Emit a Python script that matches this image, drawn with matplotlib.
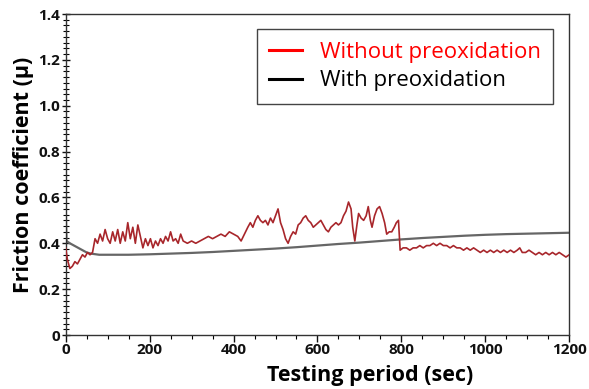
import matplotlib

matplotlib.use("Agg")
import matplotlib.pyplot as plt
from matplotlib.ticker import FixedFormatter, MultipleLocator

RED_LINE = "#a8262b"
GREY_LINE = "#666666"
FRAME = "#333333"

# friction coefficient without preoxidation
t_without = [
    0, 4, 10, 16, 22, 28, 34, 40, 46, 52, 58, 64, 70, 76, 82, 88, 94, 100,
    106, 112, 118, 124, 130, 136, 142, 148, 154, 160, 166, 172, 178, 184, 190,
    196, 202, 208, 214, 220, 226, 232, 238, 244, 250, 256, 262, 268, 274, 280,
    290, 300, 310, 320, 330, 340, 350, 360, 370, 380, 390, 400, 410, 418, 426,
    434, 440, 446, 452, 458, 464, 470, 476, 482, 488, 494, 500, 506, 512, 518,
    524, 530, 536, 542, 548, 554, 560, 566, 572, 578, 584, 590, 596, 602, 608,
    614, 620, 626, 632, 638, 644, 650, 656, 662, 668, 674, 680, 684, 689, 694,
    698, 704, 710, 716, 721, 726, 730, 736, 742, 748, 754, 760, 765, 771, 777,
    783, 788, 793, 797, 804, 812, 820, 828, 836, 844, 852, 860, 868, 876, 884,
    892, 900, 908, 916, 924, 932, 940, 948, 956, 964, 972, 980, 988, 996, 1004,
    1012, 1020, 1028, 1036, 1044, 1052, 1060, 1068, 1076, 1082, 1088, 1096,
    1104, 1112, 1120, 1128, 1136, 1144, 1152, 1160, 1168, 1176, 1184, 1192, 1200,
]
mu_without = [
    0.38, 0.33, 0.29, 0.30, 0.32, 0.31, 0.33, 0.35, 0.34, 0.36, 0.35, 0.36,
    0.42, 0.40, 0.44, 0.41, 0.46, 0.42, 0.40, 0.45, 0.41, 0.46, 0.40, 0.45,
    0.41, 0.49, 0.42, 0.47, 0.40, 0.48, 0.43, 0.38, 0.42, 0.39, 0.42, 0.38,
    0.41, 0.39, 0.42, 0.40, 0.43, 0.41, 0.45, 0.41, 0.42, 0.40, 0.44, 0.41,
    0.40, 0.41, 0.40, 0.41, 0.42, 0.43, 0.42, 0.43, 0.44, 0.43, 0.45, 0.44,
    0.43, 0.41, 0.44, 0.47, 0.49, 0.47, 0.50, 0.52, 0.50, 0.49, 0.50, 0.48,
    0.51, 0.49, 0.52, 0.55, 0.49, 0.46, 0.42, 0.40, 0.43, 0.45, 0.44, 0.48,
    0.49, 0.51, 0.52, 0.50, 0.49, 0.47, 0.48, 0.49, 0.50, 0.48, 0.46, 0.45,
    0.47, 0.48, 0.49, 0.48, 0.49, 0.52, 0.54, 0.58, 0.55, 0.47, 0.41, 0.48,
    0.53, 0.51, 0.50, 0.52, 0.56, 0.50, 0.47, 0.52, 0.55, 0.56, 0.53, 0.49,
    0.44, 0.45, 0.45, 0.47, 0.49, 0.50, 0.37, 0.38, 0.38, 0.37, 0.38, 0.38,
    0.39, 0.38, 0.39, 0.39, 0.40, 0.39, 0.40, 0.39, 0.39, 0.38, 0.39, 0.38,
    0.38, 0.37, 0.38, 0.37, 0.38, 0.37, 0.36, 0.37, 0.36, 0.37, 0.36, 0.37,
    0.36, 0.37, 0.36, 0.37, 0.36, 0.37, 0.38, 0.36, 0.36, 0.37, 0.36, 0.35,
    0.36, 0.35, 0.36, 0.35, 0.36, 0.35, 0.36, 0.35, 0.34, 0.35,
]

# friction coefficient with preoxidation
t_with = [0, 2, 10, 20, 30, 40, 50, 60, 80, 100, 150, 200, 250, 300, 350, 400,
          450, 500, 550, 600, 650, 700, 750, 800, 850, 900, 950, 1000, 1050,
          1100, 1150, 1200]
mu_with = [0.55, 0.41, 0.40, 0.39, 0.38, 0.37, 0.36, 0.355, 0.35, 0.35, 0.35,
           0.352, 0.355, 0.358, 0.362, 0.367, 0.372, 0.377, 0.383, 0.39, 0.397,
           0.403, 0.41, 0.417, 0.423, 0.428, 0.433, 0.437, 0.44, 0.442, 0.444,
           0.446]

y_ticks = [0, 0.2, 0.4, 0.6, 0.8, 1.0, 1.2, 1.4]
y_tick_labels = ["0", "0.2", "0.4", "0.6", "0.8", "1.0", "1.2", "1.4"]

plt.rcParams["font.family"] = ["Open Sans", "DejaVu Sans"]

fig = plt.figure(figsize=(5.89, 3.89), dpi=100)
ax = fig.add_axes([0.1115, 0.1388, 0.855, 0.8252])

ax.plot(t_with, mu_with, color=GREY_LINE, linewidth=1.6, zorder=2,
        solid_joinstyle="round")
ax.plot(t_without, mu_without, color=RED_LINE, linewidth=1.2, zorder=3)

ax.set_xlim(0, 1200)
ax.set_ylim(0, 1.4)
ax.xaxis.set_major_locator(MultipleLocator(200))
ax.xaxis.set_minor_locator(MultipleLocator(50))
ax.set_yticks(y_ticks)
ax.yaxis.set_major_formatter(FixedFormatter(y_tick_labels))
ax.yaxis.set_minor_locator(MultipleLocator(0.025))

ax.tick_params(axis="x", which="major", direction="out", length=5, width=1,
               labelsize=11, pad=1, colors="#111111")
ax.tick_params(axis="x", which="minor", direction="out", length=3, width=0.8)
ax.tick_params(axis="y", which="major", direction="inout", length=6, width=1,
               labelsize=11, pad=1, colors="#111111")
ax.tick_params(axis="y", which="minor", direction="inout", length=4, width=0.8)
for lbl in ax.get_xticklabels() + ax.get_yticklabels():
    lbl.set_fontweight("bold")

for name, spine in ax.spines.items():
    spine.set_edgecolor(FRAME)
    spine.set_linewidth(1.0)

ax.set_xlabel("Testing period (sec)", fontsize=15.5, fontweight="bold")
ax.xaxis.set_label_coords(0.604, -0.092)
ax.set_ylabel("Friction coefficient (\u03bc)", fontsize=15.5, fontweight="bold",
              labelpad=3)

leg = ax.legend(
    [plt.Line2D([], [], color="#ff0000", linewidth=2.2),
     plt.Line2D([], [], color="#000000", linewidth=2.2)],
    ["Without preoxidation", "With preoxidation"],
    loc="upper right", bbox_to_anchor=(0.968, 0.952), fontsize=16,
    fancybox=False, framealpha=1, edgecolor="#444444", handlelength=1.5,
    handletextpad=0.8, borderpad=0.55, labelspacing=0.35, borderaxespad=0,
)
leg.get_frame().set_linewidth(1.0)
leg.get_texts()[0].set_color("#ff0000")
leg.get_texts()[1].set_color("#000000")

fig.savefig("out.png", dpi=100, facecolor="white")
